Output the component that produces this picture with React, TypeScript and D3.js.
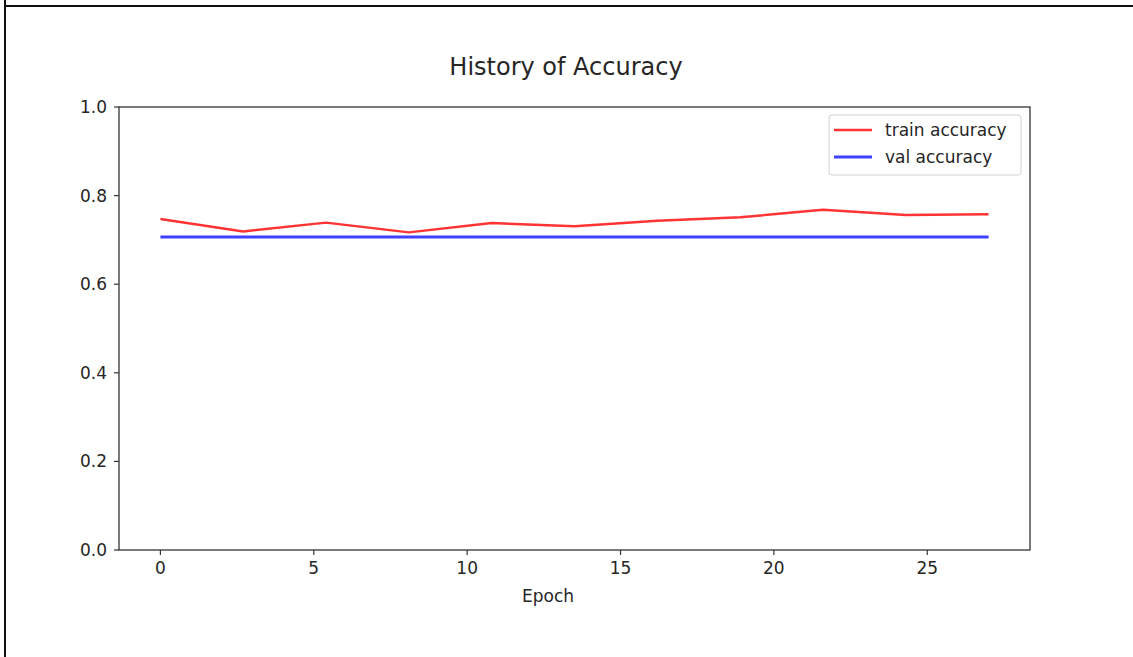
import React from "react";
import * as d3 from "d3";

// Epoch positions of the logged points
const epochs = [0, 2.7, 5.4, 8.1, 10.8, 13.5, 16.2, 18.9, 21.6, 24.3, 27];
// Training accuracy per logged point
const trainAccuracy = [0.747, 0.719, 0.739, 0.717, 0.738, 0.731, 0.743, 0.751, 0.768, 0.756, 0.758];
// Validation accuracy per logged point
const valAccuracy = [0.7065, 0.7065, 0.7065, 0.7065, 0.7065, 0.7065, 0.7065, 0.7065, 0.7065, 0.7065, 0.7065];

const xTicks = [0, 5, 10, 15, 20, 25];
const yTicks = [0, 0.2, 0.4, 0.6, 0.8, 1.0];

const W = 1133;
const H = 657;
const margin = { left: 119, right: 1030, top: 107, bottom: 550 };
const FONT = "'DejaVu Sans', sans-serif";
const TEXT = "#262626";

export default function App() {
  const x = d3.scaleLinear().domain([-1.35, 28.35]).range([margin.left, margin.right]);
  const y = d3.scaleLinear().domain([0, 1]).range([margin.bottom, margin.top]);

  const line = d3
    .line<[number, number]>()
    .x((d) => x(d[0]))
    .y((d) => y(d[1]));

  const trainPath = line(epochs.map((e, i) => [e, trainAccuracy[i]]) as [number, number][]) || "";
  const valPath = line(epochs.map((e, i) => [e, valAccuracy[i]]) as [number, number][]) || "";

  return (
    <svg
      width={W}
      height={H}
      style={{ position: "absolute", left: 0, top: 0, background: "#fff" }}
    >
      {/* frame */}
      <line x1={5} y1={0} x2={5} y2={H} stroke="#111" strokeWidth={2} />
      <line x1={4} y1={6} x2={W} y2={6} stroke="#111" strokeWidth={2} />

      <text x={566} y={75} textAnchor="middle" fontFamily={FONT} fontSize={24} fill={TEXT}>
        History of Accuracy
      </text>

      {/* data */}
      <path d={valPath} fill="none" stroke="#0000ff" strokeOpacity={0.75} strokeWidth={3} />
      <path d={trainPath} fill="none" stroke="#ff0000" strokeOpacity={0.8} strokeWidth={2.5} strokeLinejoin="round" />

      {/* axes frame */}
      <rect
        x={margin.left}
        y={margin.top}
        width={margin.right - margin.left}
        height={margin.bottom - margin.top}
        fill="none"
        stroke="#333"
        strokeWidth={1.3}
      />

      {yTicks.map((t) => (
        <g key={"y" + t}>
          <line x1={margin.left - 5} x2={margin.left} y1={y(t)} y2={y(t)} stroke="#333" strokeWidth={1.2} />
          <text
            x={margin.left - 12}
            y={y(t) + 6}
            textAnchor="end"
            fontFamily={FONT}
            fontSize={17}
            fill={TEXT}
          >
            {t.toFixed(1)}
          </text>
        </g>
      ))}

      {xTicks.map((t) => (
        <g key={"x" + t}>
          <line x1={x(t)} x2={x(t)} y1={margin.bottom} y2={margin.bottom + 5} stroke="#333" strokeWidth={1.2} />
          <text x={x(t)} y={margin.bottom + 24} textAnchor="middle" fontFamily={FONT} fontSize={17} fill={TEXT}>
            {t}
          </text>
        </g>
      ))}

      <text x={548} y={602} textAnchor="middle" fontFamily={FONT} fontSize={17} fill={TEXT}>
        Epoch
      </text>

      {/* legend */}
      <g>
        <rect x={829} y={115} width={192} height={60} rx={3} fill="#fff" fillOpacity={0.8} stroke="#d0d0d0" strokeWidth={1} />
        <line x1={834} x2={872} y1={130} y2={130} stroke="#ff0000" strokeOpacity={0.8} strokeWidth={2.5} />
        <text x={885} y={136} fontFamily={FONT} fontSize={17} fill={TEXT}>
          train accuracy
        </text>
        <line x1={834} x2={872} y1={157} y2={157} stroke="#0000ff" strokeOpacity={0.75} strokeWidth={3} />
        <text x={885} y={163} fontFamily={FONT} fontSize={17} fill={TEXT}>
          val accuracy
        </text>
      </g>
    </svg>
  );
}
